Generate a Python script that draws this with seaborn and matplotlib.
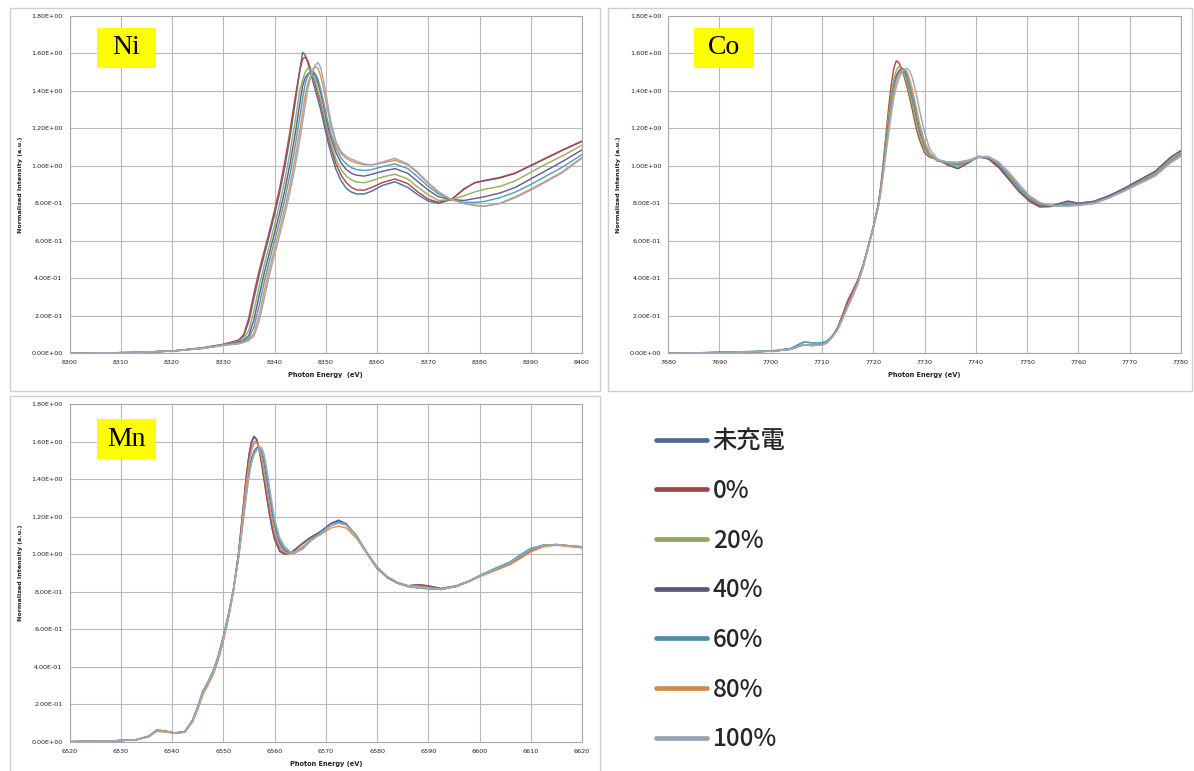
import matplotlib
matplotlib.use("Agg")
import matplotlib.pyplot as plt
import pandas as pd
import seaborn as sns
from matplotlib.lines import Line2D
from matplotlib.patches import Rectangle
from matplotlib.ticker import FuncFormatter, MultipleLocator

# ---------------------------------------------------------------- data
states = ["未充電", "0%", "20%", "40%", "60%", "80%", "100%"]

# Ni K-edge
ni_energy = [8300, 8312, 8320, 8326, 8330,
             8333, 8334, 8335, 8336, 8337, 8338, 8339, 8340, 8341, 8342, 8343, 8344, 8345,
             8345.5, 8346, 8346.5, 8347, 8347.5, 8348, 8348.5, 8349, 8349.5, 8350, 8350.5, 8351,
             8352, 8353, 8354, 8355, 8356,
             8357.5, 8359, 8361, 8363.5, 8366, 8368, 8370, 8372, 8374.5,
             8377, 8379, 8381, 8384, 8387, 8390, 8393, 8396, 8400]
ni_uncharged = [0.000, 0.004, 0.012, 0.028, 0.047,
                0.068, 0.093, 0.170, 0.294, 0.416, 0.524, 0.629, 0.738, 0.856, 0.992, 1.148, 1.330, 1.520,
                1.605, 1.590, 1.550, 1.500, 1.450, 1.400, 1.350, 1.300, 1.240, 1.180, 1.120, 1.070,
                0.980, 0.920, 0.880, 0.860, 0.850,
                0.850, 0.865, 0.895, 0.915, 0.885, 0.845, 0.812, 0.800, 0.820,
                0.875, 0.910, 0.920, 0.935, 0.960, 1.000, 1.040, 1.080, 1.130]
ni_soc0 = [0.000, 0.004, 0.012, 0.030, 0.048,
           0.070, 0.100, 0.190, 0.320, 0.440, 0.545, 0.650, 0.760, 0.880, 1.020, 1.180, 1.360, 1.520,
           1.570, 1.580, 1.560, 1.520, 1.480, 1.430, 1.380, 1.330, 1.270, 1.210, 1.150, 1.100,
           1.010, 0.950, 0.910, 0.885, 0.872,
           0.870, 0.885, 0.910, 0.930, 0.905, 0.860, 0.822, 0.805, 0.820,
           0.878, 0.908, 0.922, 0.938, 0.962, 1.002, 1.042, 1.082, 1.132]
ni_soc20 = [0.000, 0.004, 0.012, 0.028, 0.046,
            0.062, 0.077, 0.124, 0.229, 0.356, 0.472, 0.577, 0.683, 0.796, 0.922, 1.068, 1.234, 1.411,
            1.460, 1.500, 1.520, 1.515, 1.490, 1.450, 1.400, 1.350, 1.290, 1.230, 1.170, 1.120,
            1.035, 0.980, 0.945, 0.925, 0.913,
            0.910, 0.920, 0.940, 0.955, 0.930, 0.885, 0.845, 0.815, 0.820,
            0.840, 0.860, 0.875, 0.890, 0.920, 0.965, 1.010, 1.050, 1.110]
ni_soc40 = [0.000, 0.004, 0.012, 0.027, 0.045,
            0.058, 0.068, 0.096, 0.180, 0.307, 0.428, 0.535, 0.640, 0.749, 0.868, 1.006, 1.164, 1.342,
            1.428, 1.470, 1.490, 1.500, 1.500, 1.480, 1.440, 1.390, 1.330, 1.265, 1.200, 1.150,
            1.070, 1.015, 0.980, 0.960, 0.950,
            0.945, 0.955, 0.970, 0.985, 0.960, 0.915, 0.870, 0.835, 0.820,
            0.815, 0.825, 0.835, 0.855, 0.885, 0.930, 0.975, 1.020, 1.085]
ni_soc60 = [0.000, 0.004, 0.012, 0.027, 0.044,
            0.055, 0.064, 0.082, 0.140, 0.255, 0.380, 0.493, 0.598, 0.705, 0.820, 0.950, 1.100, 1.270,
            1.360, 1.440, 1.480, 1.500, 1.505, 1.490, 1.460, 1.410, 1.350, 1.285, 1.225, 1.170,
            1.095, 1.040, 1.010, 0.990, 0.980,
            0.975, 0.980, 0.995, 1.010, 0.985, 0.940, 0.890, 0.850, 0.820,
            0.805, 0.805, 0.810, 0.830, 0.860, 0.900, 0.945, 0.990, 1.060]
ni_soc80 = [0.000, 0.004, 0.012, 0.026, 0.043,
            0.052, 0.060, 0.072, 0.108, 0.203, 0.332, 0.451, 0.556, 0.661, 0.772, 0.894, 1.036, 1.198,
            1.288, 1.377, 1.440, 1.480, 1.510, 1.530, 1.520, 1.480, 1.420, 1.350, 1.280, 1.210,
            1.115, 1.065, 1.040, 1.025, 1.015,
            1.005, 1.005, 1.015, 1.030, 1.005, 0.960, 0.905, 0.858, 0.820,
            0.800, 0.790, 0.785, 0.800, 0.835, 0.875, 0.920, 0.965, 1.045]
ni_soc100 = [0.000, 0.004, 0.012, 0.026, 0.042,
             0.050, 0.058, 0.068, 0.093, 0.170, 0.294, 0.416, 0.524, 0.629, 0.738, 0.856, 0.992, 1.148,
             1.234, 1.324, 1.410, 1.470, 1.515, 1.540, 1.550, 1.525, 1.465, 1.390, 1.310, 1.235,
             1.130, 1.075, 1.050, 1.035, 1.025,
             1.010, 1.005, 1.020, 1.040, 1.010, 0.965, 0.910, 0.862, 0.820,
             0.798, 0.788, 0.785, 0.798, 0.830, 0.870, 0.915, 0.960, 1.040]

# Co K-edge
co_energy = [7680, 7690, 7697, 7701, 7704, 7705.5, 7706.5, 7708, 7710,
             7711, 7712, 7713, 7714, 7715, 7716, 7717, 7718, 7719, 7720, 7721,
             7721.5, 7722, 7722.5, 7723, 7723.5, 7724, 7724.5, 7725, 7725.5, 7726,
             7726.5, 7727, 7727.5, 7728, 7728.5, 7729, 7730, 7731,
             7732.5, 7734.5, 7736.5, 7738.5, 7740.5, 7742.5, 7744.5, 7746.5, 7748.5,
             7750.5, 7752.5, 7754.5, 7756.5,
             7758, 7760, 7763, 7766, 7769, 7772, 7775, 7778, 7780]
co_uncharged = [0.000, 0.005, 0.010, 0.015, 0.026, 0.048, 0.060, 0.056, 0.056,
                0.066, 0.092, 0.130, 0.185, 0.250, 0.310, 0.375, 0.460, 0.565, 0.672, 0.792,
                0.885, 1.000, 1.120, 1.240, 1.350, 1.430, 1.480, 1.505, 1.515, 1.500,
                1.470, 1.420, 1.360, 1.300, 1.240, 1.180, 1.100, 1.055,
                1.030, 1.015, 1.005, 1.020, 1.045, 1.040, 1.005, 0.945, 0.880,
                0.825, 0.795, 0.785, 0.790,
                0.795, 0.795, 0.805, 0.835, 0.872, 0.915, 0.955, 1.030, 1.065]
co_soc0 = [0.000, 0.004, 0.008, 0.013, 0.022, 0.038, 0.045, 0.042, 0.044,
           0.058, 0.090, 0.135, 0.205, 0.280, 0.335, 0.392, 0.470, 0.568, 0.672, 0.795,
           0.900, 1.030, 1.170, 1.310, 1.430, 1.520, 1.560, 1.550, 1.520, 1.480,
           1.430, 1.375, 1.315, 1.250, 1.190, 1.140, 1.070, 1.045,
           1.035, 1.005, 0.985, 1.015, 1.050, 1.035, 0.990, 0.925, 0.860,
           0.810, 0.780, 0.782, 0.800,
           0.812, 0.800, 0.810, 0.840, 0.880, 0.925, 0.970, 1.045, 1.080]
co_soc20 = [0.000, 0.004, 0.008, 0.013, 0.022, 0.038, 0.045, 0.042, 0.044,
            0.058, 0.088, 0.130, 0.195, 0.265, 0.325, 0.385, 0.465, 0.565, 0.670, 0.790,
            0.890, 1.010, 1.140, 1.270, 1.380, 1.460, 1.510, 1.530, 1.520, 1.490,
            1.450, 1.400, 1.340, 1.280, 1.220, 1.165, 1.090, 1.050,
            1.035, 1.010, 0.995, 1.020, 1.050, 1.040, 1.000, 0.940, 0.875,
            0.820, 0.790, 0.785, 0.795,
            0.805, 0.800, 0.808, 0.838, 0.875, 0.918, 0.960, 1.035, 1.070]
co_soc40 = [0.000, 0.004, 0.008, 0.013, 0.022, 0.038, 0.045, 0.042, 0.044,
            0.058, 0.088, 0.130, 0.195, 0.265, 0.325, 0.385, 0.465, 0.565, 0.670, 0.790,
            0.880, 0.990, 1.110, 1.230, 1.340, 1.420, 1.475, 1.505, 1.520, 1.515,
            1.490, 1.445, 1.390, 1.330, 1.265, 1.200, 1.110, 1.060,
            1.035, 1.005, 0.985, 1.015, 1.050, 1.040, 0.995, 0.930, 0.865,
            0.815, 0.785, 0.785, 0.800,
            0.810, 0.800, 0.810, 0.840, 0.880, 0.925, 0.970, 1.045, 1.080]
co_soc60 = [0.000, 0.005, 0.010, 0.015, 0.026, 0.048, 0.060, 0.056, 0.056,
            0.066, 0.092, 0.130, 0.185, 0.250, 0.310, 0.375, 0.460, 0.565, 0.672, 0.792,
            0.880, 0.990, 1.100, 1.220, 1.330, 1.410, 1.465, 1.490, 1.500, 1.500,
            1.480, 1.440, 1.385, 1.325, 1.260, 1.200, 1.110, 1.060,
            1.025, 1.015, 1.010, 1.020, 1.045, 1.045, 1.010, 0.950, 0.885,
            0.830, 0.800, 0.787, 0.787,
            0.790, 0.793, 0.803, 0.832, 0.870, 0.912, 0.953, 1.025, 1.060]
co_soc80 = [0.000, 0.004, 0.008, 0.013, 0.022, 0.038, 0.045, 0.042, 0.044,
            0.058, 0.086, 0.126, 0.188, 0.255, 0.315, 0.378, 0.460, 0.562, 0.668, 0.785,
            0.875, 0.980, 1.090, 1.200, 1.310, 1.390, 1.450, 1.490, 1.510, 1.515,
            1.505, 1.470, 1.420, 1.360, 1.295, 1.230, 1.130, 1.070,
            1.030, 1.020, 1.015, 1.025, 1.045, 1.045, 1.015, 0.960, 0.895,
            0.835, 0.800, 0.790, 0.787,
            0.787, 0.790, 0.800, 0.830, 0.867, 0.908, 0.948, 1.020, 1.055]
co_soc100 = [0.000, 0.004, 0.008, 0.013, 0.022, 0.038, 0.045, 0.042, 0.044,
             0.057, 0.084, 0.122, 0.180, 0.245, 0.305, 0.370, 0.455, 0.558, 0.665, 0.780,
             0.860, 0.960, 1.070, 1.170, 1.270, 1.360, 1.420, 1.465, 1.495, 1.510,
             1.520, 1.510, 1.480, 1.430, 1.370, 1.300, 1.180, 1.090,
             1.035, 1.020, 1.020, 1.030, 1.050, 1.050, 1.020, 0.965, 0.900,
             0.840, 0.805, 0.790, 0.785,
             0.785, 0.788, 0.798, 0.828, 0.865, 0.905, 0.945, 1.015, 1.050]

# Mn K-edge
mn_energy = [6520, 6528, 6533, 6535.5, 6537, 6538.5, 6540.5, 6542.5,
             6544, 6545, 6546, 6547, 6548, 6549, 6550, 6551, 6552, 6553, 6554,
             6554.5, 6555, 6555.5, 6556, 6556.5, 6557, 6557.5, 6558, 6558.5, 6559, 6559.5, 6560,
             6561, 6562, 6563, 6564,
             6565.5, 6567, 6569, 6571, 6572.5, 6574, 6576, 6578, 6580,
             6582, 6584, 6586, 6588, 6590, 6592.5, 6595.5, 6598, 6600,
             6603, 6606, 6608, 6610, 6612.5, 6615, 6620]
mn_uncharged = [0.000, 0.004, 0.010, 0.030, 0.062, 0.058, 0.047, 0.053,
                0.115, 0.185, 0.268, 0.318, 0.375, 0.455, 0.560, 0.678, 0.815, 0.990, 1.220,
                1.340, 1.440, 1.510, 1.550, 1.568, 1.570, 1.545, 1.480, 1.395, 1.310, 1.225, 1.150,
                1.060, 1.020, 1.005, 1.008,
                1.035, 1.075, 1.115, 1.160, 1.172, 1.160, 1.098, 1.010, 0.932,
                0.880, 0.848, 0.828, 0.822, 0.818, 0.812, 0.828, 0.855, 0.885,
                0.922, 0.958, 0.995, 1.030, 1.048, 1.050, 1.040]
mn_soc0 = [0.000, 0.004, 0.010, 0.028, 0.058, 0.055, 0.046, 0.052,
           0.110, 0.175, 0.255, 0.305, 0.360, 0.440, 0.545, 0.665, 0.810, 1.010, 1.280,
           1.420, 1.530, 1.600, 1.630, 1.615, 1.560, 1.480, 1.390, 1.300, 1.215, 1.140, 1.080,
           1.015, 1.000, 1.005, 1.025,
           1.060, 1.090, 1.120, 1.160, 1.180, 1.160, 1.095, 1.005, 0.925,
           0.875, 0.845, 0.830, 0.838, 0.832, 0.818, 0.832, 0.858, 0.882,
           0.915, 0.948, 0.982, 1.018, 1.045, 1.052, 1.035]
mn_soc20 = [0.000, 0.004, 0.010, 0.028, 0.058, 0.055, 0.046, 0.052,
            0.112, 0.180, 0.262, 0.312, 0.368, 0.448, 0.552, 0.670, 0.812, 1.000, 1.250,
            1.385, 1.490, 1.565, 1.600, 1.605, 1.575, 1.510, 1.430, 1.340, 1.255, 1.175, 1.110,
            1.035, 1.005, 1.005, 1.020,
            1.055, 1.085, 1.118, 1.158, 1.172, 1.158, 1.095, 1.008, 0.930,
            0.880, 0.850, 0.832, 0.832, 0.825, 0.815, 0.830, 0.857, 0.885,
            0.920, 0.955, 0.992, 1.028, 1.048, 1.050, 1.038]
mn_soc40 = [0.000, 0.004, 0.010, 0.028, 0.060, 0.056, 0.046, 0.052,
            0.112, 0.178, 0.258, 0.308, 0.362, 0.440, 0.545, 0.665, 0.810, 1.005, 1.270,
            1.410, 1.520, 1.595, 1.625, 1.612, 1.560, 1.485, 1.400, 1.310, 1.225, 1.150, 1.090,
            1.020, 1.002, 1.005, 1.025,
            1.058, 1.088, 1.122, 1.165, 1.182, 1.162, 1.098, 1.008, 0.928,
            0.878, 0.848, 0.832, 0.838, 0.830, 0.816, 0.830, 0.856, 0.882,
            0.916, 0.950, 0.985, 1.022, 1.048, 1.052, 1.038]
mn_soc60 = [0.000, 0.004, 0.010, 0.030, 0.062, 0.058, 0.047, 0.053,
            0.115, 0.185, 0.268, 0.318, 0.375, 0.455, 0.560, 0.678, 0.815, 0.985, 1.205,
            1.320, 1.420, 1.495, 1.540, 1.560, 1.565, 1.555, 1.500, 1.420, 1.335, 1.250, 1.170,
            1.075, 1.030, 1.010, 1.008,
            1.030, 1.072, 1.115, 1.158, 1.170, 1.160, 1.098, 1.010, 0.932,
            0.880, 0.848, 0.828, 0.820, 0.815, 0.812, 0.828, 0.856, 0.887,
            0.925, 0.960, 0.998, 1.032, 1.048, 1.050, 1.040]
mn_soc80 = [0.000, 0.004, 0.010, 0.027, 0.055, 0.052, 0.045, 0.050,
            0.105, 0.170, 0.250, 0.302, 0.355, 0.432, 0.535, 0.655, 0.800, 0.995, 1.245,
            1.375, 1.480, 1.555, 1.590, 1.595, 1.570, 1.510, 1.435, 1.350, 1.265, 1.185, 1.120,
            1.045, 1.010, 1.003, 1.012,
            1.040, 1.075, 1.105, 1.140, 1.150, 1.140, 1.085, 1.005, 0.930,
            0.880, 0.850, 0.832, 0.830, 0.822, 0.815, 0.830, 0.855, 0.880,
            0.912, 0.945, 0.978, 1.012, 1.040, 1.048, 1.035]
mn_soc100 = [0.000, 0.004, 0.010, 0.029, 0.060, 0.057, 0.047, 0.052,
             0.112, 0.180, 0.262, 0.312, 0.368, 0.448, 0.552, 0.672, 0.812, 0.985, 1.200,
             1.310, 1.410, 1.485, 1.530, 1.555, 1.568, 1.570, 1.530, 1.455, 1.365, 1.275, 1.190,
             1.090, 1.040, 1.015, 1.008,
             1.028, 1.068, 1.110, 1.152, 1.165, 1.155, 1.095, 1.008, 0.930,
             0.880, 0.848, 0.830, 0.822, 0.818, 0.814, 0.828, 0.855, 0.885,
             0.920, 0.955, 0.990, 1.025, 1.048, 1.052, 1.040]

ni_series = [ni_uncharged, ni_soc0, ni_soc20, ni_soc40, ni_soc60, ni_soc80, ni_soc100]
co_series = [co_uncharged, co_soc0, co_soc20, co_soc40, co_soc60, co_soc80, co_soc100]
mn_series = [mn_uncharged, mn_soc0, mn_soc20, mn_soc40, mn_soc60, mn_soc80, mn_soc100]

# ---------------------------------------------------------------- style
line_colors = ["#4A72A8", "#B3474B", "#94B35A", "#6E5A93", "#4AA5C0", "#E8914A", "#9AA9C0"]
legend_colors = ["#4D6B99", "#A3434B", "#8FA85E", "#5E5579", "#4E8FA3", "#CF8A4E", "#98A3B6"]
palette = dict(zip(states, line_colors))

sns.set_style("white")
plt.rcParams["font.family"] = ["DejaVu Sans", "Noto Sans CJK JP"]

W, H = 1194, 771
fig = plt.figure(figsize=(W / 100, H / 100), dpi=100)
fig.patch.set_facecolor("white")


def px_rect(x0, y0, x1, y1):
    """Figure-fraction rectangle from pixel corners (origin top-left)."""
    return [x0 / W, 1 - y1 / H, (x1 - x0) / W, (y1 - y0) / H]


def to_long(energy, series):
    frames = []
    for state, values in zip(states, series):
        frames.append(pd.DataFrame({"energy": energy, "intensity": values, "state": state}))
    return pd.concat(frames, ignore_index=True)


sci = FuncFormatter(lambda v, _: "%.2E" % v)


def xanes_panel(rect, frame, tag_box, tag, energy, series, xmin, xmax, xlabel):
    # outer chart frame
    fx0, fy0, fx1, fy1 = frame
    fig.add_artist(Rectangle((fx0 / W, 1 - fy1 / H), (fx1 - fx0) / W, (fy1 - fy0) / H,
                             transform=fig.transFigure, facecolor="none",
                             edgecolor="#cfcfcf", lw=1.0, zorder=0))
    ax = fig.add_axes(rect)
    df = to_long(energy, series)
    sns.lineplot(data=df, x="energy", y="intensity", hue="state", hue_order=states,
                 palette=palette, estimator=None, sort=False, lw=1.05,
                 legend=False, ax=ax)
    ax.set_xlim(xmin, xmax)
    ax.set_ylim(0, 1.8)
    ax.xaxis.set_major_locator(MultipleLocator(10))
    ax.yaxis.set_major_locator(MultipleLocator(0.2))
    ax.yaxis.set_major_formatter(sci)
    ax.grid(True, color="#b8b8b8", lw=0.8)
    ax.set_axisbelow(True)
    for sp in ax.spines.values():
        sp.set_color("#a8a8a8")
        sp.set_linewidth(0.8)
    ax.tick_params(axis="both", length=0, labelsize=4.6, colors="#222222")
    ax.tick_params(axis="y", pad=5)
    ax.tick_params(axis="x", pad=5)
    ax.set_xlabel(xlabel, fontsize=4.8, fontweight="bold", color="#222222", labelpad=5)
    ax.set_ylabel("Normalized Intensity (a.u.)", fontsize=4.6, fontweight="bold",
                  color="#222222", labelpad=6)
    # element tag
    bx0, by0, bx1, by1 = tag_box
    fig.add_artist(Rectangle((bx0 / W, 1 - by1 / H), (bx1 - bx0) / W, (by1 - by0) / H,
                             transform=fig.transFigure, facecolor="#FFFF00",
                             edgecolor="none", zorder=5))
    fig.text((bx0 + bx1) / 2 / W, 1 - (by0 + by1) / 2 / H, tag, ha="center", va="center",
             family="Liberation Serif", fontsize=20, color="black", zorder=6)
    return ax


xanes_panel(px_rect(69.5, 15.8, 582, 353.3), (10, 8, 600, 391), (97, 28, 156, 68),
            "Ni", ni_energy, ni_series, 8300, 8400, "Photon Energy  (eV)")
xanes_panel(px_rect(668.2, 15.8, 1180.8, 353.3), (608, 8, 1192, 391), (694, 28, 754, 68),
            "Co", co_energy, co_series, 7680, 7780, "Photon Energy (eV)")
xanes_panel(px_rect(69.5, 404.3, 582, 741.7), (10, 396, 600, 775), (97, 419, 156, 459),
            "Mn", mn_energy, mn_series, 6520, 6620, "Photon Energy (eV)")

# ---------------------------------------------------------------- legend
handles = [Line2D([], [], color=c, lw=3.4, solid_capstyle="round") for c in legend_colors]
fig.legend(handles, states, loc="upper left", bbox_to_anchor=(644 / W, 1 - 416 / H),
           bbox_transform=fig.transFigure, frameon=False,
           prop={"family": ["Noto Sans CJK JP", "DejaVu Sans"], "size": 17.5,
                 "weight": "medium"},
           handlelength=2.1, handletextpad=0.22, labelspacing=0.975, borderpad=0)

fig.savefig("out.png", dpi=100, facecolor="white")
